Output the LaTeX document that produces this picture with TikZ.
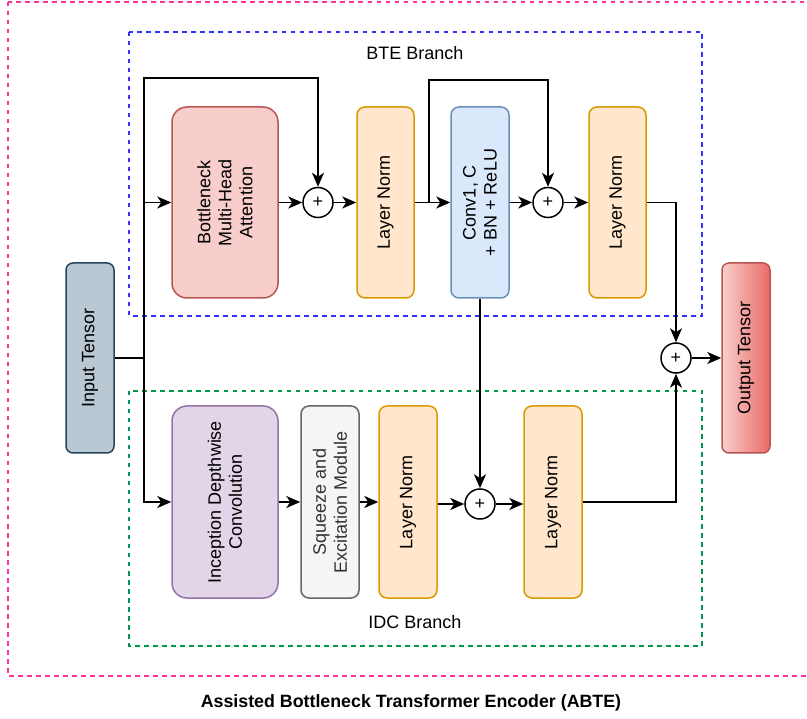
\documentclass[tikz,border=0pt]{standalone}
\usepackage{fontspec}
\setmainfont{Liberation Sans}
\usetikzlibrary{arrows.meta,positioning,calc}
\definecolor{pinkd}{HTML}{FF3399}
\definecolor{blued}{HTML}{3333FF}
\definecolor{greend}{HTML}{00994D}
\definecolor{inFill}{HTML}{BAC8D3}
\definecolor{inDraw}{HTML}{23445D}
\definecolor{redFill}{HTML}{F8CECC}
\definecolor{redDraw}{HTML}{B85450}
\definecolor{redDark}{HTML}{EA6B66}
\definecolor{lnFill}{HTML}{FFE6CC}
\definecolor{lnDraw}{HTML}{D79B00}
\definecolor{bluFill}{HTML}{DAE8FC}
\definecolor{bluDraw}{HTML}{6C8EBF}
\definecolor{purFill}{HTML}{E1D5E7}
\definecolor{purDraw}{HTML}{9673A6}
\definecolor{gryFill}{HTML}{F5F5F5}
\definecolor{gryDraw}{HTML}{666666}
\definecolor{gryText}{HTML}{333333}
\tikzset{
  fnt/.style={font=\fontsize{18}{21}\selectfont},
  blk/.style={fnt, draw, line width=1.5pt, align=center, inner sep=0pt},
  lnbox/.style={blk, fill=lnFill, draw=lnDraw, rounded corners=8pt},
  frame/.style={line width=1.5pt, dash pattern=on 4.5pt off 4.5pt},
  plusnode/.style={circle, draw, line width=1.5pt, fill=white, minimum size=30pt, inner sep=0pt, fnt},
  arr/.style={line width=1.8pt, -{Stealth[length=14pt,width=12pt,inset=4pt]}},
  ln/.style={line width=1.8pt},
}
\begin{document}
\begin{tikzpicture}[x=1pt,y=-1pt]
\useasboundingbox (0,0) rectangle (807,719);
% frames
\draw[frame, draw=pinkd] (8,2) rectangle (812,676);
\draw[frame, draw=blued] (129,32) rectangle (702,316);
\draw[frame, draw=greend] (129,391) rectangle (702,646);
\node[fnt] (bteL) at (415,53) {BTE Branch};
\node[fnt] (idcL) at (415,622) {IDC Branch};
\node[fnt, font=\fontsize{17.8}{21}\selectfont\bfseries] (title) at (411,703) {Assisted Bottleneck Transformer Encoder (ABTE)};
% nodes
\node[blk, fill=inFill, draw=inDraw, rounded corners=7pt, minimum width=48pt, minimum height=190pt] (inp) at (90,358) {};
\node[fnt, rotate=90] at (inp.center) {Input Tensor};
\node[blk, draw=redDraw, left color=redFill, right color=redDark, rounded corners=7pt, minimum width=48pt, minimum height=190pt] (out) at (746,358) {};
\node[fnt, rotate=90] at (out.center) {Output Tensor};
\node[blk, fill=redFill, draw=redDraw, rounded corners=15pt, minimum width=106pt, minimum height=191pt] (bmha) at (225,202.5) {};
\node[fnt, rotate=90, align=center] at (bmha.center) {Bottleneck\\Multi-Head\\Attention};
\node[plusnode] (p1) at (318,202.5) {+};
\node[lnbox, minimum width=57pt, minimum height=191pt] (ln1) at (385.5,202.5) {};
\node[fnt, rotate=90] at (ln1.center) {Layer Norm};
\node[blk, fill=bluFill, draw=bluDraw, rounded corners=8pt, minimum width=58pt, minimum height=191pt] (conv) at (480,202.5) {};
\node[fnt, rotate=90, align=center] at (conv.center) {Conv1, C\\+ BN + ReLU};
\node[plusnode] (p2) at (548,202.5) {+};
\node[lnbox, minimum width=57pt, minimum height=191pt] (ln2) at (617.5,202.5) {};
\node[fnt, rotate=90] at (ln2.center) {Layer Norm};
\node[plusnode] (p3) at (676,358) {+};
% bottom row
\node[blk, fill=purFill, draw=purDraw, rounded corners=15pt, minimum width=106pt, minimum height=192pt] (idc) at (225,502) {};
\node[fnt, rotate=90, align=center] at (idc.center) {Inception Depthwise\\Convolution};
\node[blk, fill=gryFill, draw=gryDraw, rounded corners=8pt, minimum width=58pt, minimum height=192pt] (se) at (330,502) {};
\node[fnt, rotate=90, align=center, text=gryText] at (se.center) {Squeeze and\\Excitation Module};
\node[lnbox, minimum width=58pt, minimum height=192pt] (ln3) at (408,502) {};
\node[fnt, rotate=90] at (ln3.center) {Layer Norm};
\node[plusnode] (p4) at (480,504) {+};
\node[lnbox, minimum width=58pt, minimum height=192pt] (ln4) at (553,502) {};
\node[fnt, rotate=90] at (ln4.center) {Layer Norm};
% junctions
\coordinate (j1) at (144,358);
\coordinate (jt) at (144,78);
\coordinate (j2) at (429,202.5);
\coordinate (jt2) at (429,80);
% connectors
\draw[ln] (inp.east) -- (j1);
\draw[arr] (j1) |- (bmha.west);
\draw[arr] (j1) |- (idc.west);
\draw[arr] (j1) -- (jt) -| (p1.north);
\draw[arr] (bmha.east) -- (p1.west);
\draw[arr] (p1.east) -- (ln1.west);
\draw[arr] (ln1.east) -- (conv.west);
\draw[arr] (j2) -- (jt2) -| (p2.north);
\draw[arr] (conv.east) -- (p2.west);
\draw[arr] (p2.east) -- (ln2.west);
\draw[arr] (ln2.east) -| (p3.north);
\draw[arr] (p3.east) -- (out.west);
\draw[arr] (conv.south) -- (p4.north);
\draw[arr] (idc.east) -- (se.west);
\draw[arr] (se.east) -- (ln3.west);
\draw[arr] (ln3.east |- p4.west) -- (p4.west);
\draw[arr] (p4.east) -- (ln4.west |- p4.east);
\draw[arr] (ln4.east) -| (p3.south);
\end{tikzpicture}
\end{document}
